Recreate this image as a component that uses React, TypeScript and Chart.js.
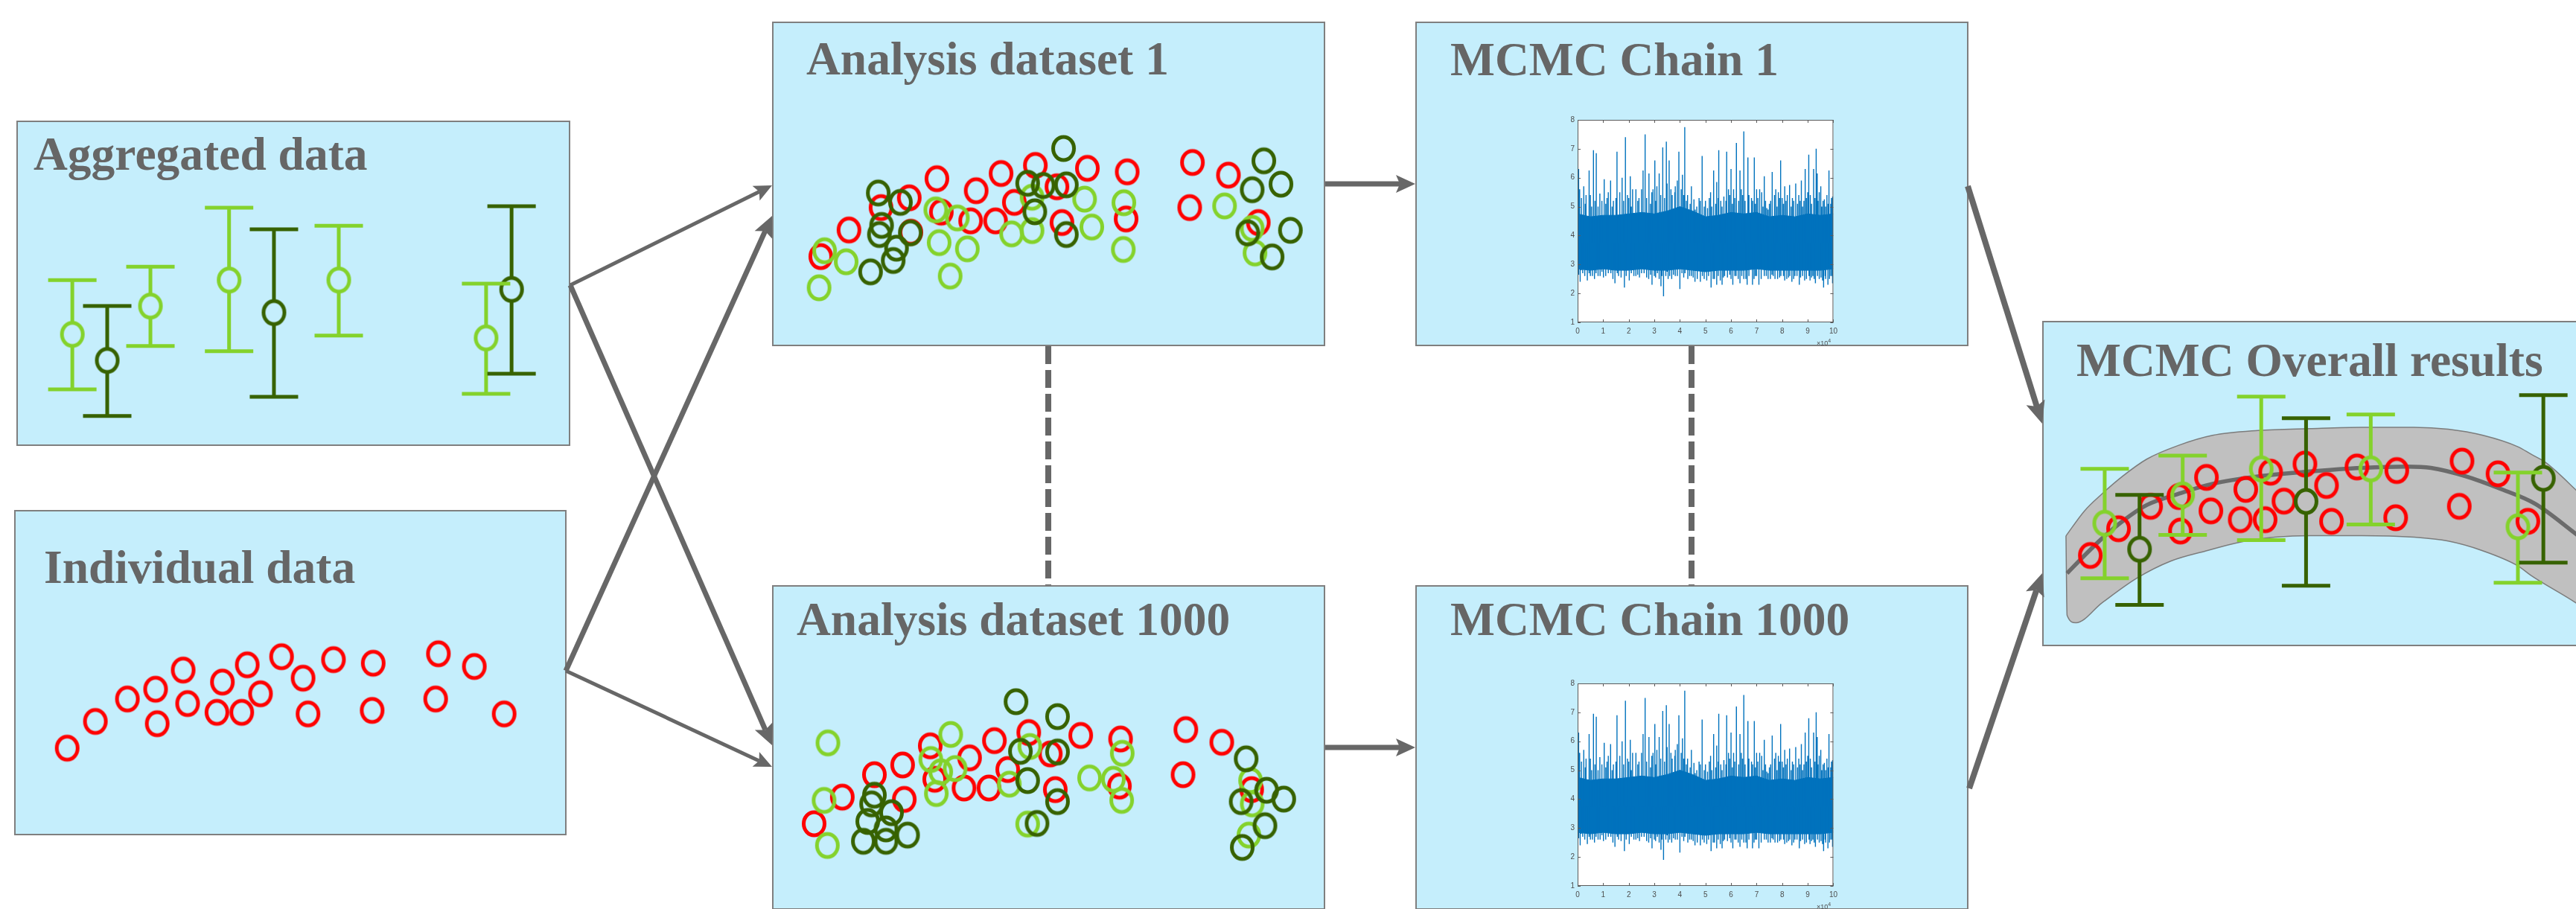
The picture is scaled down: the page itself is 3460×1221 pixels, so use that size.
import React, { useEffect, useRef } from "react";
import { Chart, registerables } from "chart.js";

Chart.register(...registerables);

// ---------------- DATA ----------------
// Individual observations (red circles), both axes on a 0–100 scale
const indivX = [9.6, 14.7, 20.5, 25.6, 25.9, 30.6, 31.4, 37.7, 36.7, 41.2, 42.2, 44.6, 48.4, 52.3, 53.2, 57.8, 65.0, 64.8, 76.8, 76.3, 83.3, 88.7];
const indivY = [26.8, 35.0, 41.9, 44.9, 34.3, 50.8, 40.5, 47.1, 37.8, 37.8, 52.4, 43.5, 54.9, 48.3, 37.3, 54.0, 52.9, 38.4, 55.8, 41.9, 51.9, 37.3];

// Aggregated data: group means with intervals (light green / dark green studies)
const aggLightX = [10.1, 24.2, 38.4, 58.2, 84.8];
const aggLightMean = [34.3, 43.0, 51.0, 51.0, 33.2];
const aggLightLow = [17.4, 30.7, 29.1, 33.9, 16.0];
const aggLightHigh = [51.0, 55.1, 73.2, 67.7, 49.9];
const aggDarkX = [16.4, 46.5, 89.4];
const aggDarkMean = [26.3, 41.0, 48.1];
const aggDarkLow = [9.2, 15.1, 22.2];
const aggDarkHigh = [43.0, 66.6, 73.7];

// Analysis dataset 1: imputed individual points
const ad1LightX = [9.3, 10.3, 14.2, 30.4, 31.0, 33.0, 34.3, 36.1, 44.1, 47.8, 47.8, 57.3, 58.6, 64.4, 64.3, 82.6, 87.6, 88.1];
const ad1LightY = [17.2, 28.6, 25.2, 41.2, 31.1, 20.8, 38.7, 29.2, 33.8, 45.1, 34.8, 44.5, 35.9, 43.4, 29.0, 42.4, 35.5, 27.9];
const ad1DarkX = [20.0, 24.0, 20.6, 20.2, 25.8, 23.3, 22.7, 18.6, 47.0, 49.8, 53.5, 54.0, 48.3, 54.0, 89.7, 87.6, 92.8, 86.8, 94.5, 91.2];
const ad1DarkY = [46.4, 43.5, 36.4, 33.6, 34.1, 29.4, 25.6, 22.1, 49.4, 48.7, 60.1, 48.9, 40.6, 33.6, 56.3, 47.4, 49.1, 34.1, 34.9, 26.7];

// Analysis dataset 1000: imputed individual points
const ad1000LightX = [12.1, 11.4, 12.0, 34.3, 30.7, 32.5, 35.1, 31.7, 48.6, 44.9, 48.2, 59.4, 63.7, 65.3, 65.2, 88.5, 88.8, 88.2];
const ad1000LightY = [51.7, 34.0, 20.1, 54.3, 46.6, 42.8, 43.8, 36.1, 50.6, 39.0, 26.7, 40.9, 40.5, 48.5, 34.0, 40.1, 32.9, 23.3];
const ad1000DarkX = [46.1, 53.6, 46.9, 53.6, 48.2, 53.6, 49.9, 20.5, 20.0, 23.6, 19.3, 22.6, 26.5, 18.5, 22.6, 87.7, 91.4, 94.5, 86.8, 91.1, 87.0];
const ad1000DarkY = [64.4, 59.8, 49.1, 48.9, 40.1, 33.6, 26.9, 35.6, 32.9, 30.2, 27.5, 25.2, 23.3, 21.4, 21.4, 46.8, 37.1, 34.4, 33.6, 26.2, 19.5];

// MCMC overall results: fitted mean curve and credible band
const bandUpperX = [5.2, 8.5, 11.7, 15.4, 19.8, 25.5, 31.7, 39.9, 49.3, 58.7, 68.1, 74.3, 80.6, 86.9, 89.3, 91.9, 97.4, 100.9];
const bandUpperY = [32.8, 40.4, 45.7, 51.1, 56.4, 60.6, 63.7, 65.2, 65.8, 66.2, 66.2, 65.6, 63.7, 60.2, 57.9, 55.4, 46.9, 40.9];
const bandLowerX = [5.2, 5.4, 7.0, 11.7, 18.0, 24.2, 30.5, 36.7, 43.0, 49.3, 58.7, 68.1, 74.3, 80.6, 86.9, 89.3, 97.4, 100.9];
const bandLowerY = [32.8, 8.4, 6.1, 12.2, 19.8, 25.1, 28.2, 30.9, 32.4, 32.9, 32.9, 32.4, 31.2, 28.2, 23.6, 20.6, 12.2, 7.9];
const meanX = [5.4, 8.5, 11.7, 15.4, 19.8, 25.5, 31.7, 39.9, 49.3, 58.7, 66.8, 71.2, 77.5, 83.7, 90.0, 97.4, 100.9];
const meanY = [21.3, 26.7, 32.0, 37.3, 42.3, 45.7, 48.8, 51.1, 52.6, 53.7, 54.1, 53.7, 51.1, 47.3, 42.7, 33.4, 28.9];

// MCMC trace (iteration ×10^4, parameter value): upward and downward excursions
const traceCenter = 3.75;
const traceHighX = [0.04, 0.24, 0.45, 0.62, 0.73, 0.87, 1.04, 1.29, 1.54, 1.74, 1.87, 2.06, 2.28, 2.56, 2.64, 2.79, 3.02, 3.19, 3.33, 3.47, 3.58, 3.82, 3.96, 4.10, 4.19, 4.45, 4.66, 4.87, 5.08, 5.32, 5.44, 5.52, 5.72, 5.83, 6.00, 6.21, 6.35, 6.50, 6.66, 6.91, 7.12, 7.30, 7.40, 7.61, 7.75, 7.94, 8.10, 8.29, 8.53, 8.75, 8.90, 9.04, 9.23, 9.33, 9.37, 9.51, 9.65, 9.83, 9.97,
  0.15, 0.33, 0.55, 0.95, 1.15, 1.40, 1.65, 1.95, 2.15, 2.40, 2.90, 3.10, 3.70, 4.30, 4.55, 4.75, 5.00, 5.20, 5.60, 5.90, 6.10, 6.45, 6.80, 7.00, 7.20, 7.50, 7.70, 7.85, 8.00, 8.20, 8.40, 8.65, 8.85, 9.10, 9.45, 9.75, 9.90,
  0.08, 0.30, 0.50, 0.68, 0.80, 1.10, 1.20, 1.35, 1.50, 1.80, 2.00, 2.10, 2.35, 2.50, 2.70, 2.85, 2.95, 3.05, 3.25, 3.40, 3.50, 3.65, 3.80, 3.90, 4.05, 4.15, 4.25, 4.40, 4.60, 4.80, 4.95, 5.15, 5.25, 5.40, 5.50, 5.65, 5.80, 5.95, 6.05, 6.15, 6.30, 6.40, 6.55, 6.70, 6.85, 6.95, 7.05, 7.25, 7.35, 7.45, 7.55, 7.80, 7.90, 8.05, 8.15, 8.35, 8.45, 8.60, 8.70, 8.80, 8.95, 9.00, 9.15, 9.28, 9.40, 9.55, 9.60, 9.70, 9.80, 9.93];
const traceHighY = [6.3, 5.7, 6.25, 6.95, 6.85, 5.45, 5.95, 5.9, 6.9, 6.0, 7.4, 6.05, 5.6, 6.25, 7.5, 6.15, 6.6, 6.15, 7.05, 7.25, 6.6, 5.7, 6.9, 6.1, 7.75, 5.7, 5.0, 6.75, 4.95, 6.25, 5.85, 6.95, 5.35, 6.9, 6.3, 7.2, 6.25, 7.6, 6.7, 6.7, 5.6, 6.05, 4.95, 6.2, 5.6, 6.6, 5.7, 5.75, 5.8, 5.9, 6.3, 6.8, 6.3, 7.0, 6.15, 5.7, 5.25, 6.25, 5.35,
  5.3, 5.4, 5.0, 5.2, 5.3, 5.2, 5.5, 5.4, 5.6, 5.3, 5.5, 5.7, 5.4, 5.4, 5.25, 5.3, 5.2, 5.5, 5.2, 5.6, 5.6, 5.4, 5.3, 5.6, 5.5, 5.1, 5.4, 5.5, 5.3, 5.4, 5.3, 5.4, 5.2, 5.4, 5.5, 5.4, 5.1,
  5.6, 5.1, 5.4, 5.2, 5.0, 5.1, 5.5, 5.0, 5.3, 5.2, 5.3, 5.0, 5.2, 5.6, 5.3, 5.1, 5.6, 5.2, 5.4, 5.3, 5.8, 5.6, 5.5, 5.9, 5.6, 5.4, 5.2, 5.1, 4.9, 5.2, 5.0, 5.3, 5.0, 5.1, 5.3, 5.0, 5.2, 5.4, 5.1, 5.3, 5.2, 5.6, 5.2, 5.4, 5.2, 5.1, 5.3, 5.0, 5.2, 4.9, 5.2, 5.0, 5.3, 5.1, 5.2, 5.0, 5.2, 5.1, 5.2, 5.0, 5.3, 5.5, 5.1, 5.3, 5.2, 5.0, 5.2, 5.0, 5.1, 5.3];
const traceLowX = [0.04, 0.10, 0.38, 0.66, 1.01, 1.46, 1.83, 2.02, 2.35, 2.70, 2.91, 3.19, 3.26, 3.36, 3.54, 3.75, 4.00, 4.31, 4.59, 4.80, 5.22, 5.44, 5.65, 5.86, 6.07, 6.35, 6.63, 6.84, 7.09, 7.54, 7.82, 8.10, 8.38, 8.67, 8.88, 9.09, 9.30, 9.62, 9.79, 9.97,
  0.20, 0.50, 0.80, 1.20, 1.60, 2.20, 2.50, 3.00, 3.45, 3.90, 4.20, 4.45, 4.95, 5.35, 5.75, 6.20, 6.50, 6.95, 7.30, 7.65, 7.95, 8.25, 8.50, 8.80, 9.20, 9.45, 9.70, 9.90,
  0.14, 0.28, 0.45, 0.58, 0.72, 0.88, 0.95, 1.10, 1.30, 1.38, 1.55, 1.70, 1.90, 2.10, 2.28, 2.42, 2.60, 2.78, 2.85, 3.05, 3.12, 3.30, 3.50, 3.60, 3.68, 3.82, 4.08, 4.15, 4.38, 4.52, 4.68, 4.88, 5.05, 5.12, 5.30, 5.50, 5.58, 5.70, 5.95, 6.00, 6.15, 6.28, 6.42, 6.58, 6.70, 6.90, 7.00, 7.18, 7.38, 7.45, 7.60, 7.72, 7.90, 8.05, 8.18, 8.30, 8.45, 8.58, 8.72, 8.95, 9.05, 9.15, 9.25, 9.38, 9.52, 9.58, 9.68, 9.85, 9.95];
const traceLowY = [2.65, 2.4, 2.45, 2.5, 2.55, 2.35, 2.2, 2.45, 2.65, 2.55, 2.3, 2.5, 2.25, 1.9, 2.5, 2.65, 2.15, 2.5, 2.4, 2.4, 2.2, 2.3, 2.3, 2.55, 2.3, 2.35, 2.3, 2.3, 2.3, 2.5, 2.5, 2.45, 2.4, 2.3, 2.45, 2.45, 2.35, 2.2, 2.3, 2.35,
  2.7, 2.6, 2.6, 2.7, 2.6, 2.6, 2.7, 2.6, 2.6, 2.6, 2.7, 2.6, 2.5, 2.5, 2.6, 2.6, 2.5, 2.6, 2.6, 2.6, 2.6, 2.55, 2.6, 2.6, 2.6, 2.5, 2.5, 2.6,
  2.8, 2.6, 2.7, 2.6, 2.7, 2.6, 2.75, 2.6, 2.7, 2.5, 2.7, 2.55, 2.6, 2.7, 2.6, 2.55, 2.7, 2.5, 2.65, 2.55, 2.7, 2.6, 2.75, 2.6, 2.5, 2.6, 2.7, 2.55, 2.6, 2.55, 2.5, 2.6, 2.45, 2.6, 2.5, 2.6, 2.45, 2.55, 2.65, 2.5, 2.6, 2.5, 2.6, 2.5, 2.6, 2.5, 2.6, 2.5, 2.6, 2.5, 2.65, 2.5, 2.55, 2.6, 2.5, 2.6, 2.5, 2.6, 2.55, 2.5, 2.6, 2.55, 2.5, 2.6, 2.55, 2.45, 2.6, 2.5, 2.6];
// dense core of the trace
const coreX = [0, 0.5, 1.0, 1.5, 2.0, 2.5, 3.0, 3.5, 4.0, 4.5, 5.0, 5.5, 6.0, 6.5, 7.0, 7.5, 8.0, 8.5, 9.0, 9.5, 10];
const coreHigh = [4.75, 4.65, 4.7, 4.7, 4.75, 4.8, 4.75, 4.85, 5.0, 4.85, 4.65, 4.7, 4.8, 4.75, 4.8, 4.65, 4.7, 4.65, 4.75, 4.7, 4.75];
const coreLow = [2.85, 2.8, 2.85, 2.8, 2.8, 2.85, 2.8, 2.8, 2.85, 2.8, 2.75, 2.8, 2.8, 2.8, 2.85, 2.8, 2.8, 2.8, 2.8, 2.8, 2.85];
const traceXTicks = [0, 1, 2, 3, 4, 5, 6, 7, 8, 9, 10];
const traceYTicks = [1, 2, 3, 4, 5, 6, 7, 8];

// ---------------- STYLE ----------------
const RED = "#FF0000";
const LIGHT = "#84D22C";
const DARK = "#376200";
const BLUE = "#0072BD";
const GRAY = "#676767";
const BOX_BG = "#C5EEFC";

function ring(color: string) {
  const rx = 14, ry = 15.6, lw = 5;
  const c = document.createElement("canvas");
  const w = Math.ceil(2 * rx + lw + 2), h = Math.ceil(2 * ry + lw + 2);
  c.width = w; c.height = h;
  const g = c.getContext("2d")!;
  g.strokeStyle = color; g.lineWidth = lw;
  g.beginPath(); g.ellipse(w / 2, h / 2, rx, ry, 0, 0, Math.PI * 2); g.stroke();
  return c;
}

const pts = (xs: number[], ys: number[]) => xs.map((x, i) => ({ x, y: ys[i] }));
const bars = (xs: number[], m: number[], lo: number[], hi: number[]) =>
  xs.map((x, i) => ({ x, y: m[i], lo: lo[i], hi: hi[i] }));

function ringSet(data: any[], color: string, order: number, extra: any = {}) {
  return { data, showLine: false, pointStyle: ring(color), pointRadius: 16, order, clip: false, ...extra };
}

const errorBarPlugin = {
  id: "errorBars",
  afterDatasetsDraw(chart: any) {
    const ctx = chart.ctx;
    chart.data.datasets.forEach((ds: any, i: number) => {
      if (!ds.errorBar) return;
      const meta = chart.getDatasetMeta(i);
      const xs = chart.scales[meta.xAxisID], ys = chart.scales[meta.yAxisID];
      const cap = 32.5, gap = 15.5;
      ctx.save();
      ctx.strokeStyle = ds.errorBar.color;
      ctx.lineWidth = 5;
      ds.data.forEach((p: any) => {
        const x = xs.getPixelForValue(p.x), y = ys.getPixelForValue(p.y);
        const yt = ys.getPixelForValue(p.hi), yb = ys.getPixelForValue(p.lo);
        ctx.beginPath();
        ctx.moveTo(x, yt); ctx.lineTo(x, y - gap);
        ctx.moveTo(x, y + gap); ctx.lineTo(x, yb);
        ctx.moveTo(x - cap, yt); ctx.lineTo(x + cap, yt);
        ctx.moveTo(x - cap, yb); ctx.lineTo(x + cap, yb);
        ctx.stroke();
      });
      ctx.restore();
    });
  },
};

const hidden = (min: number, max: number, axis?: string) => ({ type: "linear", display: false, min, max, ...(axis ? { axis } : {}) });

function baseOptions(scales: any, padding: any = 0) {
  return {
    responsive: false,
    animation: false,
    events: [],
    layout: { padding, autoPadding: false },
    plugins: { legend: { display: false }, tooltip: { enabled: false }, filler: { drawTime: "beforeDatasetsDraw" } },
    scales,
  };
}

// ---------------- CHART CONFIGS ----------------
const makeAggregated = () => ({
  type: "line",
  data: {
    datasets: [
      ringSet(bars(aggLightX, aggLightMean, aggLightLow, aggLightHigh), LIGHT, 1, { errorBar: { color: LIGHT } }),
      ringSet(bars(aggDarkX, aggDarkMean, aggDarkLow, aggDarkHigh), DARK, 0, { errorBar: { color: DARK } }),
    ],
  },
  options: baseOptions({ x: hidden(0, 100), y: hidden(0, 100) }),
  plugins: [errorBarPlugin],
});

const makeIndividual = () => ({
  type: "line",
  data: { datasets: [ringSet(pts(indivX, indivY), RED, 0)] },
  options: baseOptions({ x: hidden(0, 100), y: hidden(0, 100) }),
});

const makeAnalysis = (lx: number[], ly: number[], dx: number[], dy: number[], xr: number[], yr: number[]) => () => ({
  type: "line",
  data: {
    datasets: [
      ringSet(pts(dx, dy), DARK, 0),
      ringSet(pts(lx, ly), LIGHT, 1),
      ringSet(pts(indivX, indivY), RED, 2),
    ],
  },
  options: baseOptions({ x: hidden(xr[0], xr[1]), y: hidden(yr[0], yr[1]) }),
});
const makeAnalysis1 = makeAnalysis(ad1LightX, ad1LightY, ad1DarkX, ad1DarkY, [0.8, 100.8], [-0.8, 99.2]);
const makeAnalysis1000 = makeAnalysis(ad1000LightX, ad1000LightY, ad1000DarkX, ad1000DarkY, [2.0, 102.0], [0.3, 100.3]);

const makeOverall = () => ({
  type: "line",
  data: {
    datasets: [
      ringSet(bars(aggLightX, aggLightMean, aggLightLow, aggLightHigh), LIGHT, 0, { xAxisID: "x2", yAxisID: "y2", errorBar: { color: LIGHT } }),
      ringSet(bars(aggDarkX, aggDarkMean, aggDarkLow, aggDarkHigh), DARK, 0, { xAxisID: "x2", yAxisID: "y2", errorBar: { color: DARK } }),
      ringSet(pts(indivX, indivY), RED, 1),
      { data: pts(meanX, meanY), borderColor: "#6B6B6B", borderWidth: 5.5, pointRadius: 0, cubicInterpolationMode: "monotone", order: 2, fill: false },
      { data: pts(bandUpperX, bandUpperY), borderColor: "#7C7C7C", borderWidth: 1.5, backgroundColor: "#C0C0C0", pointRadius: 0, cubicInterpolationMode: "monotone", order: 3, fill: "+1" },
      { data: pts(bandLowerX, bandLowerY), borderColor: "#7C7C7C", borderWidth: 1.5, pointRadius: 0, cubicInterpolationMode: "monotone", order: 3, fill: false },
    ],
  },
  options: baseOptions({
    x: hidden(0.9, 100.9), y: hidden(-1.1, 98.9),
    x2: hidden(-1.2, 98.8, "x"), y2: hidden(-3.5, 96.5, "y"),
  }),
  plugins: [errorBarPlugin],
});

const matlabAxes = {
  id: "matlabAxes",
  beforeDraw(chart: any) {
    const { ctx, chartArea: a } = chart;
    ctx.save(); ctx.fillStyle = "#FFFFFF";
    ctx.fillRect(a.left, a.top, a.right - a.left, a.bottom - a.top);
    ctx.restore();
  },
  afterDatasetsDraw(chart: any) {
    const { ctx, chartArea: a, scales } = chart;
    ctx.save();
    ctx.strokeStyle = "#5A5A5A"; ctx.lineWidth = 1;
    ctx.strokeRect(a.left + 0.5, a.top + 0.5, a.right - a.left - 1, a.bottom - a.top - 1);
    ctx.beginPath();
    scales.x.ticks.forEach((t: any) => {
      const px = Math.round(scales.x.getPixelForValue(t.value)) + 0.5;
      ctx.moveTo(px, a.bottom); ctx.lineTo(px, a.bottom - 4);
      ctx.moveTo(px, a.top); ctx.lineTo(px, a.top + 4);
    });
    scales.y.ticks.forEach((t: any) => {
      const py = Math.round(scales.y.getPixelForValue(t.value)) + 0.5;
      ctx.moveTo(a.left, py); ctx.lineTo(a.left + 4, py);
      ctx.moveTo(a.right, py); ctx.lineTo(a.right - 4, py);
    });
    ctx.stroke();
    ctx.restore();
  },
};

function spikeData() {
  const out: any[] = [];
  traceHighX.forEach((x, i) => out.push({ x, y: traceCenter }, { x, y: traceHighY[i] }, { x, y: null }));
  traceLowX.forEach((x, i) => out.push({ x, y: traceCenter }, { x, y: traceLowY[i] }, { x, y: null }));
  return out;
}

const tickFont = { size: 10, family: "'Liberation Sans', Arial, sans-serif" };
const makeTrace = () => ({
  type: "line",
  data: {
    datasets: [
      { data: spikeData(), borderColor: BLUE, borderWidth: 1.4, pointRadius: 0, spanGaps: false, order: 0, fill: false },
      { data: pts(coreX, coreHigh), borderColor: BLUE, borderWidth: 1, backgroundColor: BLUE, pointRadius: 0, order: 1, fill: "+1" },
      { data: pts(coreX, coreLow), borderColor: BLUE, borderWidth: 1, pointRadius: 0, order: 1, fill: false },
    ],
  },
  options: baseOptions(
    {
      x: {
        type: "linear", min: 0, max: 10,
        afterFit: (s: any) => { s.height = 22; },
        afterBuildTicks: (s: any) => { s.ticks = traceXTicks.map((v) => ({ value: v })); },
        ticks: { color: "#4D4D4D", font: tickFont, padding: 6, maxRotation: 0, autoSkip: false },
        grid: { display: false, drawTicks: false },
        border: { display: false },
      },
      y: {
        type: "linear", min: 1, max: 8,
        afterFit: (s: any) => { s.width = 20; },
        afterBuildTicks: (s: any) => { s.ticks = traceYTicks.map((v) => ({ value: v })); },
        ticks: { color: "#4D4D4D", font: tickFont, padding: 4, autoSkip: false },
        grid: { display: false, drawTicks: false },
        border: { display: false },
      },
    },
    { left: 20, top: 10, right: 10, bottom: 18 }
  ),
  plugins: [matlabAxes],
});

// ---------------- COMPONENTS ----------------
function ChartCanvas({ left, top, width, height, make }: any) {
  const ref = useRef<HTMLCanvasElement>(null);
  useEffect(() => {
    const chart = new Chart(ref.current as HTMLCanvasElement, make());
    return () => chart.destroy();
  }, [make]);
  return <canvas ref={ref} width={width} height={height} style={{ position: "absolute", left, top, width, height }} />;
}

const boxes = [
  { l: 22, t: 162, w: 744, h: 437 },
  { l: 19, t: 685, w: 742, h: 437 },
  { l: 1037, t: 29, w: 743, h: 436 },
  { l: 1037, t: 786, w: 743, h: 436 },
  { l: 1901, t: 29, w: 743, h: 436 },
  { l: 1901, t: 786, w: 743, h: 436 },
  { l: 2743, t: 431, w: 743, h: 437 },
];

const titles = [
  { text: "Aggregated data", l: 45, t: 175 },
  { text: "Individual data", l: 59, t: 730 },
  { text: "Analysis dataset 1", l: 1083, t: 47 },
  { text: "Analysis dataset 1000", l: 1070, t: 800 },
  { text: "MCMC Chain 1", l: 1948, t: 48 },
  { text: "MCMC Chain 1000", l: 1948, t: 800 },
  { text: "MCMC Overall results", l: 2789, t: 452 },
];

const arrows = [
  { x1: 766, y1: 383, x2: 1037, y2: 249, w: 5, L: 24, H: 11 },
  { x1: 766, y1: 383, x2: 1037, y2: 1001, w: 7, L: 28, H: 13 },
  { x1: 760, y1: 901, x2: 1037, y2: 290, w: 7, L: 28, H: 13 },
  { x1: 760, y1: 901, x2: 1037, y2: 1030, w: 5, L: 24, H: 11 },
  { x1: 1780, y1: 247, x2: 1901, y2: 247, w: 7, L: 26, H: 12 },
  { x1: 1780, y1: 1004, x2: 1901, y2: 1004, w: 7, L: 26, H: 12 },
  { x1: 2643, y1: 250, x2: 2743, y2: 569, w: 8, L: 30, H: 13 },
  { x1: 2645, y1: 1059, x2: 2743, y2: 770, w: 8, L: 30, H: 13 },
];

function Arrow({ x1, y1, x2, y2, w, L, H }: any) {
  const dx = x2 - x1, dy = y2 - y1, len = Math.hypot(dx, dy);
  const ux = dx / len, uy = dy / len, nx = -uy, ny = ux;
  const bx = x2 - ux * L, by = y2 - uy * L;
  const mx = x2 - ux * L * 0.8, my = y2 - uy * L * 0.8;
  return (
    <g>
      <line x1={x1} y1={y1} x2={mx} y2={my} stroke={GRAY} strokeWidth={w} />
      <polygon points={`${x2},${y2} ${bx + nx * H},${by + ny * H} ${mx},${my} ${bx - nx * H},${by - ny * H}`} fill={GRAY} />
    </g>
  );
}

export default function App() {
  return (
    <div style={{ position: "fixed", left: 0, top: 0, width: 3460, height: 1221, overflow: "hidden", background: "#FFFFFF" }}>
      {boxes.map((b, i) => (
        <div key={i} style={{ position: "absolute", left: b.l, top: b.t, width: b.w, height: b.h, boxSizing: "border-box", border: "2px solid #7F7F7F", background: BOX_BG }} />
      ))}
      <ChartCanvas left={22} top={162} width={744} height={437} make={makeAggregated} />
      <ChartCanvas left={19} top={685} width={742} height={437} make={makeIndividual} />
      <ChartCanvas left={1037} top={29} width={743} height={436} make={makeAnalysis1} />
      <ChartCanvas left={1037} top={786} width={743} height={436} make={makeAnalysis1000} />
      <ChartCanvas left={2743} top={431} width={743} height={437} make={makeOverall} />
      <ChartCanvas left={2079} top={151} width={395} height={322} make={makeTrace} />
      <ChartCanvas left={2079} top={908} width={395} height={322} make={makeTrace} />
      {[0, 757].map((dy) => (
        <div key={dy} style={{ position: "absolute", left: 2440, top: 456 + dy, font: "9px 'Liberation Sans', Arial, sans-serif", color: "#4D4D4D", whiteSpace: "nowrap" }}>
          ×10<span style={{ fontSize: 7, position: "relative", top: -4 }}>4</span>
        </div>
      ))}
      {titles.map((t, i) => (
        <div key={i} style={{ position: "absolute", left: t.l, top: t.t, fontFamily: "'Liberation Serif', 'Times New Roman', serif", fontWeight: "bold", fontSize: 63.5, lineHeight: "63.5px", color: "#666666", whiteSpace: "nowrap" }}>
          {t.text}
        </div>
      ))}
      <svg width={3460} height={1221} style={{ position: "absolute", left: 0, top: 0 }}>
        {arrows.map((a, i) => <Arrow key={i} {...a} />)}
        <line x1={1408} y1={465} x2={1408} y2={786} stroke={GRAY} strokeWidth={8} strokeDasharray="24 8" />
        <line x1={2272} y1={465} x2={2272} y2={786} stroke={GRAY} strokeWidth={8} strokeDasharray="24 8" />
      </svg>
    </div>
  );
}
